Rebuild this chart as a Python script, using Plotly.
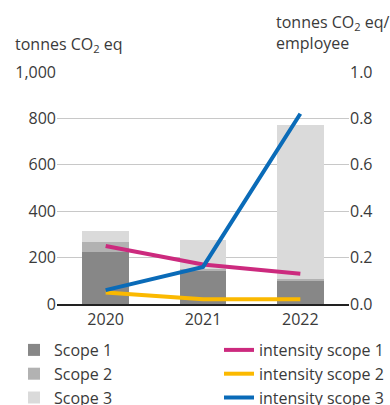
import plotly.graph_objects as go

years = ["2020", "2021", "2022"]
scope1 = [225, 145, 100]
scope2 = [42, 5, 8]
scope3 = [48, 128, 663]
int_scope1 = [0.25, 0.17, 0.13]
int_scope2 = [0.05, 0.02, 0.02]
int_scope3 = [0.06, 0.16, 0.82]

FONT = "Open Sans"
TXT = "#3a3a3a"
L, R, T, B = 57, 41, 72, 101
W, H = 390, 405
PW, PH = W - L - R, H - T - B

def px(x):
    return (x - L) / PW

def py(y):
    return (H - B - y) / PH

fig = go.Figure()
bar_specs = [("Scope 1", scope1, "#878787"), ("Scope 2", scope2, "#b2b2b2"), ("Scope 3", scope3, "#dadada")]
line_specs = [("intensity scope 1", int_scope1, "#cc2a7e"), ("intensity scope 2", int_scope2, "#fbb900"), ("intensity scope 3", int_scope3, "#0a6bb8")]

for bn, bv, bc in bar_specs:
    fig.add_trace(go.Bar(x=years, y=bv, name=bn, marker=dict(color=bc, line=dict(width=0)),
                         yaxis="y", legend="legend"))
for ln, lv, lc in line_specs:
    fig.add_trace(go.Scatter(x=years, y=lv, name=ln, mode="lines", line=dict(color=lc, width=4),
                             yaxis="y2", legend="legend2"))

leg_common = dict(orientation="v", xanchor="left", yanchor="top", traceorder="normal",
                  font=dict(size=16, color=TXT), bgcolor="rgba(0,0,0,0)")

fig.update_layout(
    width=W, height=H,
    margin=dict(l=L, r=R, t=T, b=B, autoexpand=False),
    barmode="stack", bargap=0.52,
    paper_bgcolor="white", plot_bgcolor="white",
    font=dict(family=FONT, size=15, color=TXT),
    xaxis=dict(showline=True, linecolor="#222", linewidth=1.5, ticks="", tickfont=dict(size=16)),
    yaxis=dict(range=[0, 1000], dtick=200, tickformat=",", showgrid=True, gridcolor="#c8c8c8",
               gridwidth=1.2, zeroline=False, ticks="", tickfont=dict(size=16)),
    yaxis2=dict(range=[0, 1.0], dtick=0.2, tickformat=".1f", overlaying="y", side="right",
                showgrid=False, zeroline=False, ticks="", tickfont=dict(size=16)),
    legend=dict(x=px(14), y=py(333), **leg_common),
    legend2=dict(x=px(219), y=py(333), **leg_common),
    showlegend=True,
    annotations=[
        dict(text="tonnes CO<sub>2</sub> eq", x=px(13), y=py(44), xref="paper", yref="paper",
             xanchor="left", yanchor="middle", showarrow=False, font=dict(size=16, color=TXT)),
        dict(text="tonnes CO<sub>2</sub> eq/<br>employee", x=px(274), y=py(9), xref="paper", yref="paper",
             xanchor="left", yanchor="top", align="left", showarrow=False, font=dict(size=16, color=TXT)),
    ],
)

fig.write_html("out.html")
